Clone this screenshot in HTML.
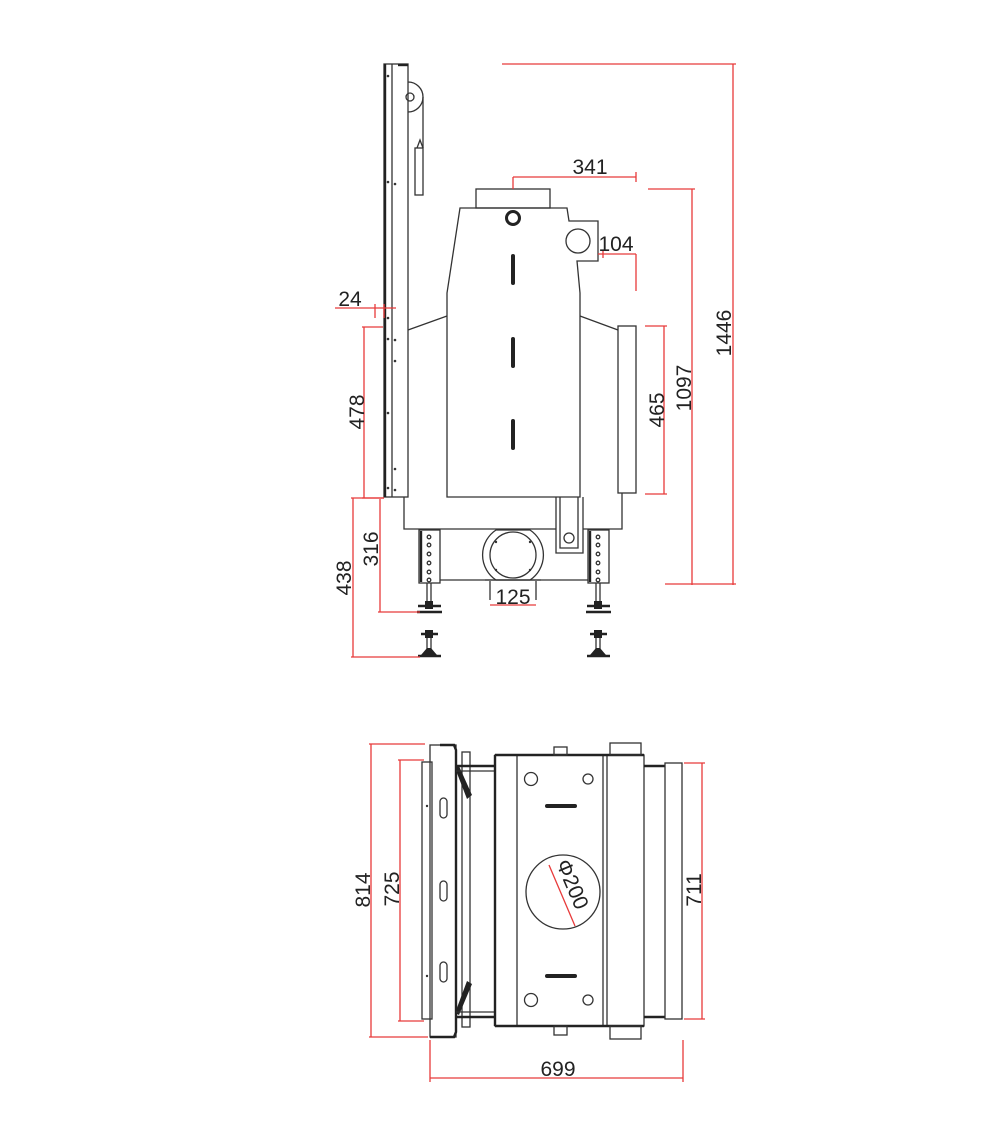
<!DOCTYPE html>
<html><head><meta charset="utf-8"><style>
html,body{margin:0;padding:0;background:#fff;}
svg{display:block;}
text{font-family:"Liberation Sans",sans-serif;font-size:21px;fill:#222;}
.k{fill:none;stroke:#333;stroke-width:1.3;}
.kt{fill:none;stroke:#222;stroke-width:2.4;}
.r{fill:none;stroke:#e83a3a;stroke-width:1.3;}
</style></head><body>
<svg width="1000" height="1125" viewBox="0 0 1000 1125" xmlns="http://www.w3.org/2000/svg">
<!-- ===== SIDE VIEW ===== -->
<!-- door -->
<rect class="k" x="384" y="64" width="24" height="433"/>
<line class="kt" x1="385" y1="64" x2="385" y2="497"/>
<line class="k" x1="392" y1="64" x2="392" y2="497"/>
<line class="kt" x1="398" y1="65" x2="408" y2="65"/>
<g fill="#333">
<circle cx="388" cy="76" r="1.3"/><circle cx="388" cy="182" r="1.3"/><circle cx="395" cy="184" r="1.3"/>
<circle cx="388" cy="318" r="1.3"/><circle cx="388" cy="339" r="1.3"/><circle cx="395" cy="340" r="1.3"/>
<circle cx="395" cy="361" r="1.3"/><circle cx="388" cy="413" r="1.3"/><circle cx="395" cy="469" r="1.3"/>
<circle cx="388" cy="488" r="1.3"/><circle cx="395" cy="490" r="1.3"/>
</g>
<!-- pulley -->
<path class="k" d="M408 82 A15 15 0 0 1 408 112" stroke-width="1.8"/>
<circle class="k" cx="410" cy="97" r="4"/>
<line class="k" x1="423" y1="97" x2="423" y2="148"/>
<rect class="k" x="415" y="148" width="8" height="47"/>
<path class="k" d="M417 148 L420 140 L423 148"/>
<!-- body -->
<rect class="k" x="476" y="189" width="74" height="19"/>
<path class="k" d="M460 208 L567 208 L569 221 L598 221 L598 261 L577 261 L580 293 L580 497 L447 497 L447 293 Z"/>
<circle cx="513" cy="218" r="6.5" fill="none" stroke="#222" stroke-width="3"/>
<circle class="k" cx="578" cy="241" r="12" stroke-width="2"/>
<line x1="513" y1="256" x2="513" y2="283" stroke="#222" stroke-width="4" stroke-linecap="round"/>
<line x1="513" y1="339" x2="513" y2="366" stroke="#222" stroke-width="4" stroke-linecap="round"/>
<line x1="513" y1="421" x2="513" y2="448" stroke="#222" stroke-width="4" stroke-linecap="round"/>
<line class="k" x1="408" y1="330" x2="447" y2="316"/>
<line class="k" x1="580" y1="316" x2="618" y2="330"/>
<rect class="k" x="618" y="326" width="18" height="167"/>
<!-- lower base -->
<path class="k" d="M404 497 L404 529 L556 529 M583 529 L622 529 L622 493"/>
<path class="k" d="M556 497 L556 553 L583 553 L583 497"/>
<path class="k" d="M560 497 L560 548 L578 548 L578 497"/>
<circle class="k" cx="569" cy="538" r="5" stroke-width="2"/>
<line class="k" x1="440" y1="580" x2="588" y2="580"/>
<!-- flue -->
<path class="k" d="M496 530 L530 530 A30 30 0 0 1 530 580 L496 580 A30 30 0 0 1 496 530 Z"/>
<circle class="k" cx="513" cy="555" r="23"/>
<g fill="#333"><circle cx="496" cy="542" r="1.2"/><circle cx="530" cy="542" r="1.2"/><circle cx="496" cy="570" r="1.2"/><circle cx="530" cy="570" r="1.2"/></g>
<path class="k" d="M490 581 L490 600 M536 581 L536 600 M485 580 L541 580"/>
<!-- legs -->
<g id="leg">
<rect class="k" x="419" y="530" width="21" height="53"/>
<line class="kt" x1="421" y1="531" x2="421" y2="582" stroke-width="2"/>
<g class="k" stroke-width="1.2"><circle cx="429" cy="537" r="1.8"/><circle cx="429" cy="545" r="1.8"/><circle cx="429" cy="554" r="1.8"/><circle cx="429" cy="563" r="1.8"/><circle cx="429" cy="572" r="1.8"/><circle cx="429" cy="580" r="1.8"/></g>
<line class="k" x1="427" y1="583" x2="427" y2="604"/><line class="k" x1="431" y1="583" x2="431" y2="604"/>
<line class="kt" x1="418" y1="606" x2="441" y2="606" stroke-width="2"/>
<rect x="425" y="601" width="8" height="8" fill="#222"/>
<line class="kt" x1="417" y1="612" x2="442" y2="612" stroke-width="2"/>
<line class="kt" x1="421" y1="634" x2="438" y2="634" stroke-width="2"/>
<rect x="425" y="630" width="8" height="8" fill="#222"/>
<line class="k" x1="427" y1="638" x2="427" y2="652"/><line class="k" x1="431" y1="638" x2="431" y2="652"/>
<path d="M421 655 L437 655 L431 648 L427 648 Z" fill="#222"/>
<line class="kt" x1="418" y1="656" x2="441" y2="656" stroke-width="2"/>
</g>
<use href="#leg" transform="translate(169,0)"/>
<!-- side dims -->
<g class="r">
<line x1="502" y1="64" x2="736" y2="64"/><line x1="733" y1="64" x2="733" y2="585"/><line x1="665" y1="584" x2="736" y2="584"/>
<line x1="648" y1="189" x2="695" y2="189"/><line x1="692" y1="189" x2="692" y2="585"/>
<line x1="645" y1="326" x2="667" y2="326"/><line x1="645" y1="494" x2="667" y2="494"/><line x1="664" y1="326" x2="664" y2="494"/>
<line x1="513" y1="177" x2="513" y2="189"/><line x1="513" y1="177" x2="636" y2="177"/><line x1="636" y1="172" x2="636" y2="182"/>
<line x1="598" y1="254" x2="636" y2="254"/><line x1="636" y1="254" x2="636" y2="291"/><line x1="603" y1="250" x2="603" y2="258"/>
<line x1="335" y1="308" x2="396" y2="308"/><line x1="375" y1="304" x2="375" y2="318"/><line x1="384" y1="304" x2="384" y2="318"/>
<line x1="362" y1="327" x2="383" y2="327"/><line x1="364" y1="327" x2="364" y2="498"/><line x1="362" y1="498" x2="384" y2="498"/>
<line x1="380" y1="499" x2="380" y2="612"/><line x1="378" y1="612" x2="420" y2="612"/>
<line x1="353" y1="498" x2="353" y2="657"/><line x1="351" y1="657" x2="420" y2="657"/><line x1="351" y1="498" x2="384" y2="498"/>
<line x1="490" y1="605" x2="536" y2="605"/>
</g>
<text x="590" y="174" text-anchor="middle">341</text>
<text x="616" y="251" text-anchor="middle">104</text>
<text x="350" y="306" text-anchor="middle">24</text>
<text x="513" y="604" text-anchor="middle">125</text>
<text transform="translate(364,412) rotate(-90)" text-anchor="middle">478</text>
<text transform="translate(378,549) rotate(-90)" text-anchor="middle">316</text>
<text transform="translate(351,578) rotate(-90)" text-anchor="middle">438</text>
<text transform="translate(664,410) rotate(-90)" text-anchor="middle">465</text>
<text transform="translate(691,388) rotate(-90)" text-anchor="middle">1097</text>
<text transform="translate(731,333) rotate(-90)" text-anchor="middle">1446</text>

<!-- ===== PLAN VIEW ===== -->
<rect class="k" x="422" y="762" width="10" height="257"/>
<rect class="k" x="430" y="745" width="26" height="292"/>
<path class="kt" d="M440 745 L454 745 L456 750 L456 1032 L454 1037 L430 1037" stroke-width="2"/>
<rect class="k" x="462" y="752" width="8" height="275"/>
<g fill="#333"><circle cx="427" cy="806" r="1.2"/><circle cx="427" cy="976" r="1.2"/></g>
<rect class="k" x="440" y="798" width="7" height="20" rx="3.5"/>
<rect class="k" x="440" y="881" width="7" height="20" rx="3.5"/>
<rect class="k" x="440" y="962" width="7" height="20" rx="3.5"/>
<path d="M455 768 L459 766 L472 795 L467 799 Z" fill="#222"/>
<path d="M455 1013 L459 1015 L472 984 L467 981 Z" fill="#222"/>
<line class="kt" x1="456" y1="766" x2="495" y2="766" stroke-width="2"/>
<line class="k" x1="456" y1="771" x2="495" y2="771"/>
<line class="kt" x1="456" y1="1017" x2="495" y2="1017" stroke-width="2"/>
<line class="k" x1="456" y1="1012" x2="495" y2="1012"/>
<rect class="k" x="495" y="755" width="149" height="271"/>
<line class="kt" x1="495" y1="755" x2="495" y2="1026" stroke-width="2"/>
<line class="k" x1="517" y1="755" x2="517" y2="1026"/>
<line class="k" x1="603" y1="755" x2="603" y2="1026"/>
<line class="k" x1="607" y1="755" x2="607" y2="1026"/>
<line class="kt" x1="495" y1="755" x2="644" y2="755" stroke-width="2"/>
<line class="kt" x1="495" y1="1026" x2="644" y2="1026" stroke-width="2"/>
<rect class="k" x="554" y="747" width="13" height="8"/>
<rect class="k" x="554" y="1026" width="13" height="9"/>
<rect class="k" x="610" y="743" width="31" height="12"/>
<rect class="k" x="610" y="1026" width="31" height="13"/>
<line class="kt" x1="644" y1="766" x2="665" y2="766" stroke-width="2"/>
<line class="kt" x1="644" y1="1017" x2="665" y2="1017" stroke-width="2"/>
<rect class="k" x="665" y="763" width="17" height="256"/>
<circle class="k" cx="531" cy="779" r="6.5" stroke-width="1.8"/>
<circle class="k" cx="588" cy="779" r="5" stroke-width="1.8"/>
<circle class="k" cx="531" cy="1000" r="6.5" stroke-width="1.8"/>
<circle class="k" cx="588" cy="1000" r="5" stroke-width="1.8"/>
<line x1="547" y1="806" x2="575" y2="806" stroke="#222" stroke-width="4" stroke-linecap="round"/>
<line x1="547" y1="976" x2="575" y2="976" stroke="#222" stroke-width="4" stroke-linecap="round"/>
<circle class="k" cx="563" cy="892" r="37" stroke-width="1.8"/>
<line class="r" x1="549" y1="865" x2="575" y2="926"/>
<text transform="translate(566,887) rotate(67)" text-anchor="middle">Φ200</text>
<g class="r">
<line x1="369" y1="744" x2="425" y2="744"/><line x1="371" y1="744" x2="371" y2="1037"/><line x1="369" y1="1037" x2="428" y2="1037"/>
<line x1="398" y1="760" x2="424" y2="760"/><line x1="400" y1="760" x2="400" y2="1021"/><line x1="398" y1="1021" x2="424" y2="1021"/>
<line x1="684" y1="763" x2="705" y2="763"/><line x1="702" y1="763" x2="702" y2="1019"/><line x1="684" y1="1019" x2="705" y2="1019"/>
<line x1="430" y1="1040" x2="430" y2="1082"/><line x1="683" y1="1040" x2="683" y2="1082"/><line x1="430" y1="1078" x2="683" y2="1078"/>
</g>
<text transform="translate(370,890) rotate(-90)" text-anchor="middle">814</text>
<text transform="translate(399,889) rotate(-90)" text-anchor="middle">725</text>
<text transform="translate(701,890) rotate(-90)" text-anchor="middle">711</text>
<text x="558" y="1076" text-anchor="middle">699</text>
</svg>
</body></html>
